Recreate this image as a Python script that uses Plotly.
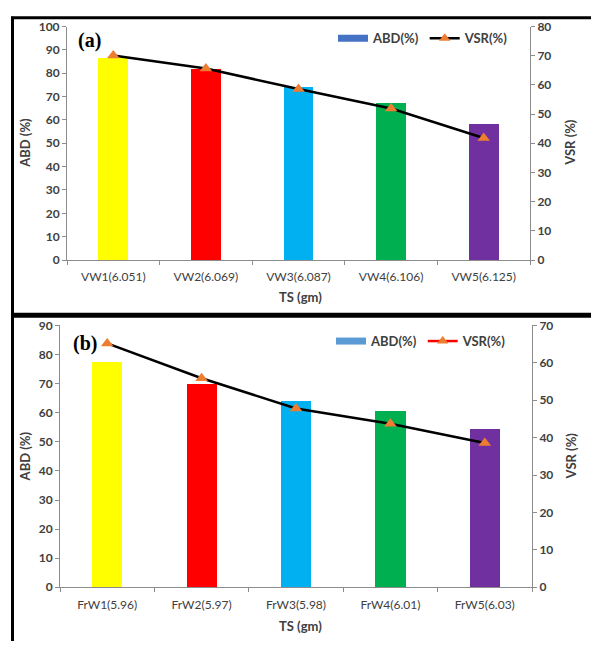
import plotly.graph_objects as go

W, H = 591, 648

cats_a = ["VW1(6.051)", "VW2(6.069)", "VW3(6.087)", "VW4(6.106)", "VW5(6.125)"]
abd_a = [86.7, 82.0, 74.5, 67.4, 58.6]
vsr_a = [70.1, 65.6, 58.6, 51.9, 41.8]

cats_b = ["FrW1(5.96)", "FrW2(5.97)", "FrW3(5.98)", "FrW4(6.01)", "FrW5(6.03)"]
abd_b = [77.3, 69.7, 64.0, 60.3, 54.3]
vsr_b = [65.2, 55.9, 47.8, 43.7, 38.6]

bar_colors = ["#FFFF00", "#FF0000", "#00B0F0", "#00B050", "#7030A0"]

FONT = "Lato"
TXT = "#404040"


def px(x):
    return x / W


def py(y):
    return 1 - y / H


fig = go.Figure()

# Panel (a)
fig.add_trace(go.Bar(x=cats_a, y=abd_a, marker=dict(color=bar_colors, line=dict(width=0)),
                     width=0.32, xaxis="x", yaxis="y", showlegend=False))
fig.add_trace(go.Scatter(x=cats_a, y=vsr_a, mode="lines+markers",
                         line=dict(color="black", width=2.5),
                         marker=dict(symbol="triangle-up", size=11, color="#ED7D31"),
                         xaxis="x", yaxis="y2", showlegend=False))
# Panel (b)
fig.add_trace(go.Bar(x=cats_b, y=abd_b, marker=dict(color=bar_colors, line=dict(width=0)),
                     width=0.32, xaxis="x2", yaxis="y3", showlegend=False))
fig.add_trace(go.Scatter(x=cats_b, y=vsr_b, mode="lines+markers",
                         line=dict(color="black", width=2.5),
                         marker=dict(symbol="triangle-up", size=11, color="#ED7D31"),
                         xaxis="x2", yaxis="y4", showlegend=False))

# Legend dummies
fig.add_trace(go.Scatter(x=[None], y=[None], mode="lines", name="ABD(%)",
                         line=dict(color="#4472C4", width=7), xaxis="x", yaxis="y", legend="legend"))
fig.add_trace(go.Scatter(x=[None], y=[None], mode="lines+markers", name="VSR(%)",
                         line=dict(color="black", width=2.5),
                         marker=dict(symbol="triangle-up", size=10, color="#ED7D31"),
                         xaxis="x", yaxis="y", legend="legend"))
fig.add_trace(go.Scatter(x=[None], y=[None], mode="lines", name="ABD(%)",
                         line=dict(color="#5B9BD5", width=7), xaxis="x2", yaxis="y3", legend="legend2"))
fig.add_trace(go.Scatter(x=[None], y=[None], mode="lines+markers", name="VSR(%)",
                         line=dict(color="#FF0000", width=2.5),
                         marker=dict(symbol="triangle-up", size=10, color="#ED7D31"),
                         xaxis="x2", yaxis="y3", legend="legend2"))

tickfont_y = dict(family=FONT, size=12, color=TXT, weight="bold")
tickfont_x = dict(family=FONT, size=12, color=TXT)
axcommon = dict(showgrid=False, zeroline=False, showline=True, linecolor="#8c8c8c", linewidth=1,
                ticks="outside", ticklen=4, tickcolor="#8c8c8c", fixedrange=True)

fig.update_layout(
    width=W, height=H,
    margin=dict(l=0, r=0, t=0, b=0),
    paper_bgcolor="white", plot_bgcolor="white",
    bargap=0,
    xaxis=dict(domain=[px(67), px(530)], anchor="y", type="category", tickson="boundaries",
               tickfont=tickfont_x, ticklabelstandoff=6, **axcommon),
    yaxis=dict(domain=[py(258), py(19)], anchor="x", range=[0, 100], dtick=10,
               tickfont=tickfont_y, **axcommon),
    yaxis2=dict(overlaying="y", side="right", anchor="x", range=[0, 80], dtick=10,
                tickfont=tickfont_y, **axcommon),
    xaxis2=dict(domain=[px(60), px(532)], anchor="y3", type="category", tickson="boundaries",
                tickfont=tickfont_x, ticklabelstandoff=6, **axcommon),
    yaxis3=dict(domain=[py(593), py(325)], anchor="x2", range=[0, 90], dtick=10,
                tickfont=tickfont_y, **axcommon),
    yaxis4=dict(overlaying="y3", side="right", anchor="x2", range=[0, 70], dtick=10,
                tickfont=tickfont_y, **axcommon),
    legend=dict(orientation="h", x=px(333), y=py(31), xanchor="left", yanchor="middle",
                bgcolor="rgba(0,0,0,0)", itemwidth=30,
                font=dict(family=FONT, size=13, color=TXT, weight="bold")),
    legend2=dict(orientation="h", x=px(331), y=py(341), xanchor="left", yanchor="middle",
                 bgcolor="rgba(0,0,0,0)", itemwidth=30,
                 font=dict(family=FONT, size=13, color=TXT, weight="bold")),
)

annots = [
    dict(text="(a)", x=px(76), y=py(33), xanchor="left", yanchor="middle",
         font=dict(family="Liberation Serif", size=20, color="black", weight="bold")),
    dict(text="(b)", x=px(71), y=py(343), xanchor="left", yanchor="middle",
         font=dict(family="Liberation Serif", size=20, color="black", weight="bold")),
    dict(text="ABD (%)", x=px(25), y=py(138), textangle=-90, xanchor="center", yanchor="middle",
         font=dict(family=FONT, size=13, color=TXT, weight="bold")),
    dict(text="VSR (%)", x=px(570), y=py(138), textangle=-90, xanchor="center", yanchor="middle",
         font=dict(family=FONT, size=13, color=TXT, weight="bold")),
    dict(text="TS (gm)", x=px(300), y=py(296), xanchor="center", yanchor="middle",
         font=dict(family=FONT, size=13, color=TXT, weight="bold")),
    dict(text="ABD (%)", x=px(25), y=py(459), textangle=-90, xanchor="center", yanchor="middle",
         font=dict(family=FONT, size=13, color=TXT, weight="bold")),
    dict(text="VSR (%)", x=px(571), y=py(459), textangle=-90, xanchor="center", yanchor="middle",
         font=dict(family=FONT, size=13, color=TXT, weight="bold")),
    dict(text="TS (gm)", x=px(300), y=py(633), xanchor="center", yanchor="middle",
         font=dict(family=FONT, size=13, color=TXT, weight="bold")),
]
for a in annots:
    a.update(xref="paper", yref="paper", showarrow=False)
fig.update_layout(annotations=annots)

shapes = [
    dict(type="line", x0=px(11), x1=1, y0=py(10), y1=py(10), line=dict(color="black", width=3)),
    dict(type="line", x0=px(12.5), x1=px(12.5), y0=py(9), y1=0, line=dict(color="black", width=3)),
    dict(type="line", x0=px(11), x1=1, y0=py(314.5), y1=py(314.5), line=dict(color="black", width=5)),
]
for s in shapes:
    s.update(xref="paper", yref="paper")
fig.update_layout(shapes=shapes)

fig.write_html("out.html", config={"displayModeBar": False},
               post_script="document.body.style.margin='0';document.body.style.overflow='hidden';")
